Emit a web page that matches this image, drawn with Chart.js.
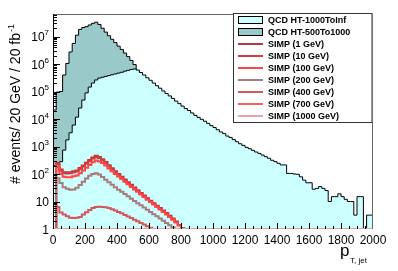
<!DOCTYPE html>
<html><head><meta charset="utf-8">
<script src="https://cdn.jsdelivr.net/npm/chart.js@4.4.0/dist/chart.umd.min.js"></script>
<style>html,body{margin:0;padding:0;background:#fff;}#wrap{width:398px;height:271px;position:relative;}</style>
</head><body><div id="wrap"><canvas id="c"></canvas></div>
<script>
const X_MIN = 0, X_MAX = 2000, Y_MIN = 1, Y_MAX = 6.6e7;
const BIN_WIDTH = 20;
const binLowEdges = Array.from({length: 100}, (_, i) => i * BIN_WIDTH);

const xTickValues = [0, 200, 400, 600, 800, 1000, 1200, 1400, 1600, 1800, 2000];
const xTickLabels = ['0', '200', '400', '600', '800', '1000', '1200', '1400', '1600', '1800', '2000'];
const yTickValues = [1, 10, 1e2, 1e3, 1e4, 1e5, 1e6, 1e7];
const yTickBases = ['1', '10', '10', '10', '10', '10', '10', '10'];
const yTickExps = ['', '', '2', '3', '4', '5', '6', '7'];

const qcdHT1000ToInf = [
 200, 250, 280, 740, 1740, 3160, 6030, 11700, 25100, 49000,
 89100, 145000, 204000, 263000, 309000, 331000, 355000, 380000, 407000, 437000,
 468000, 501000, 550000, 589000, 631000, 661000, 603000, 490000, 398000, 316000,
 257000, 204000, 162000, 132000, 105000, 85100, 69200, 56200, 44700, 36300,
 29500, 24000, 20400, 16600, 13600, 11500, 9770, 8300, 6920, 5750,
 4900, 4070, 3390, 2950, 2400, 2140, 1780, 1500, 1260, 1100,
 933, 832, 724, 631, 562, 490, 427, 372, 316, 282,
 245, 214, 214, 105, 105, 100, 98, 79, 60, 48,
 48, 28, 30, 35, 30, 25, 10, 15, 15, 19,
 15, 12, 10, 10, 3.2, 15, 15, 0, 3.2, 3.2];

const qcdHT500To1000 = [
 21400, 95500, 100000, 398000, 1050000, 2750000, 5620000, 11200000, 18200000, 21400000,
 22900000, 26300000, 30200000, 33100000, 27500000, 20000000, 14500000, 10700000, 7940000, 6030000,
 4470000, 3390000, 2510000, 1860000, 1350000, 955000, 550000, 398000, 282000, 200000,
 141000, 100000, 70800, 50100, 35500, 25100, 17800, 12600, 8910, 6310,
 4470, 3160, 2240, 1580, 1120, 794, 562, 398, 282, 200,
 141, 100, 71, 50, 35, 25, 18, 13, 9, 6,
 4, 3, 2];

const simp1GeV = [0, 251, 145, 117, 115, 117, 126, 135, 166, 204, 257, 324, 398, 457, 417, 347, 275, 209, 162, 126,
 100, 79.4, 63.1, 50.1, 40.7, 32.4, 25.7, 20.4, 16.6, 13.2, 10.7, 8.71, 7.08, 5.75, 4.68, 3.80, 3.02, 2.40, 1.86, 1.41,
 1.07, 0.8, 0.6, 0.45, 0.3];
const simp10GeV = [0, 229, 132, 107, 105, 107, 115, 126, 151, 186, 234, 295, 363, 417, 380, 316, 251, 191, 148, 117,
 93.3, 74.1, 58.9, 46.8, 38.0, 30.2, 24.0, 19.5, 15.8, 12.6, 10.2, 8.32, 6.76, 5.50, 4.47, 3.63, 2.88, 2.29, 1.78, 1.38,
 1.05, 0.8, 0.6, 0.4];
const simp100GeV = [0, 178, 100, 79.4, 75.9, 75.9, 83.2, 89.1, 107, 135, 170, 214, 269, 309, 288, 251, 204, 158, 126, 100,
 81.3, 66.1, 52.5, 42.7, 33.9, 27.5, 22.4, 17.8, 14.5, 11.7, 9.55, 7.76, 6.31, 5.13, 4.17, 3.39, 2.75, 2.19, 1.74, 1.35,
 1.05, 0.8, 0.6];
const simp200GeV = [0, 70.8, 46.8, 33.1, 28.8, 26.9, 27.5, 31.6, 39.8, 52.5, 69.2, 87.1, 100, 107, 95.5, 77.6, 61.7, 50.1, 40.7, 33.1,
 26.9, 22.4, 18.6, 15.5, 12.6, 10.5, 8.71, 7.24, 6.03, 5.01, 4.17, 3.47, 2.88, 2.40, 2.0, 1.66, 1.38, 1.15, 0.9, 0.7];
const simp400GeV = [0, 6.31, 3.98, 3.39, 2.88, 2.57, 2.51, 2.57, 2.75, 3.39, 4.07, 4.90, 5.75, 6.31, 6.46, 6.31, 6.17, 5.75, 5.25, 4.68,
 4.17, 3.72, 3.24, 2.82, 2.51, 2.19, 1.91, 1.66, 1.45, 1.26, 1.10, 0.9, 0.7];
const simp700GeV = [0, 0.52, 0.33, 0.28, 0.24, 0.22, 0.21, 0.22, 0.25, 0.3, 0.36, 0.42, 0.48, 0.52, 0.53, 0.5, 0.47, 0.43, 0.39, 0.34,
 0.3, 0.26, 0.23, 0.2, 0.17, 0.15, 0.13, 0.11];
const simp1000GeV = [0, 0.11, 0.07, 0.06, 0.05, 0.05, 0.05, 0.05, 0.06, 0.07, 0.08, 0.09, 0.1, 0.11, 0.11, 0.1, 0.1, 0.09, 0.08, 0.07,
 0.06, 0.05, 0.05, 0.04];

const seriesLabels = ['QCD HT-1000ToInf', 'QCD HT-500To1000', 'SIMP (1 GeV)', 'SIMP (10 GeV)', 'SIMP (100 GeV)',
  'SIMP (200 GeV)', 'SIMP (400 GeV)', 'SIMP (700 GeV)', 'SIMP (1000 GeV)'];

// ROOT-like: bins below the axis minimum are drawn on the bottom of the frame
function histPoints(vals) {
  const pts = [];
  for (let i = 0; i < binLowEdges.length; i++) {
    const v = vals[i] ?? 0;
    pts.push({x: binLowEdges[i], y: Math.max(v, Y_MIN)});
  }
  const last = vals[binLowEdges.length - 1] ?? 0;
  pts.push({x: X_MAX, y: Math.max(last, Y_MIN)});
  return pts;
}

const FONT = '"Liberation Sans", Arial, Helvetica, sans-serif';

function qcd(label, vals, fillColor, order) {
  return {label, data: histPoints(vals), stepped: true, borderColor: '#000', borderWidth: 1,
    backgroundColor: fillColor, fill: 'start', pointRadius: 0, order, legendKind: 'box'};
}
function simp(label, vals, color, order) {
  return {label, data: histPoints(vals), stepped: true, borderColor: color, borderWidth: 2,
    backgroundColor: color, fill: false, pointRadius: 0, order, legendKind: 'line'};
}

const datasets = [
  qcd(seriesLabels[0], qcdHT1000ToInf, '#ccffff', 9),
  qcd(seriesLabels[1], qcdHT500To1000, '#99c9c9', 10),
  simp(seriesLabels[2], simp1GeV, '#b33a3a', 8),
  simp(seriesLabels[3], simp10GeV, '#d63a3a', 7),
  simp(seriesLabels[4], simp100GeV, '#ff4444', 6),
  simp(seriesLabels[5], simp200GeV, '#a87a7a', 5),
  simp(seriesLabels[6], simp400GeV, '#d85656', 4),
  simp(seriesLabels[7], simp700GeV, '#ff5e5e', 3),
  simp(seriesLabels[8], simp1000GeV, '#e2a6a6', 2)
];

const rootStyle = {
  id: 'rootStyle',
  beforeDatasetsDraw(chart) {
    const {ctx, chartArea: a} = chart;
    ctx.save();
    ctx.strokeStyle = '#000'; ctx.lineWidth = 1;
    ctx.beginPath();
    ctx.moveTo(a.left, a.bottom - 0.5); ctx.lineTo(a.right, a.bottom - 0.5);
    ctx.stroke();
    ctx.restore();
  },
  afterDraw(chart) {
    const {ctx, chartArea: a, scales} = chart;
    const xs = scales.x, ys = scales.y;
    ctx.save();
    // frame
    ctx.lineWidth = 1;
    ctx.strokeStyle = '#666';
    ctx.beginPath();
    ctx.moveTo(a.left, a.top + 0.5); ctx.lineTo(a.right, a.top + 0.5);
    ctx.moveTo(a.right - 0.5, a.top); ctx.lineTo(a.right - 0.5, a.bottom);
    ctx.stroke();
    ctx.strokeStyle = '#000';
    ctx.beginPath();
    ctx.moveTo(a.left + 0.5, a.top); ctx.lineTo(a.left + 0.5, a.bottom);
    ctx.stroke();
    // x ticks
    ctx.beginPath();
    for (let v = X_MIN + 50; v < X_MAX; v += 50) {
      const px = Math.round(xs.getPixelForValue(v)) + 0.5;
      const len = (v % 200 === 0) ? 6 : 3;
      ctx.moveTo(px, a.bottom); ctx.lineTo(px, a.bottom - len);
    }
    // y ticks
    for (let d = 0; d <= 7; d++) {
      for (let k = 1; k <= 9; k++) {
        const v = k * Math.pow(10, d);
        if (v > Y_MAX) break;
        const py = Math.round(ys.getPixelForValue(v)) + 0.5;
        const len = k === 1 ? 7 : 4;
        if (v > Y_MIN) { ctx.moveTo(a.left, py); ctx.lineTo(a.left + len, py); }
      }
    }
    ctx.stroke();
    // x tick labels
    ctx.fillStyle = '#000';
    ctx.font = '12px ' + FONT;
    ctx.textAlign = 'center';
    ctx.textBaseline = 'alphabetic';
    xTickValues.forEach((v, i) => {
      ctx.fillText(xTickLabels[i], xs.getPixelForValue(v), a.bottom + 15);
    });
    // y tick labels
    yTickValues.forEach((v, i) => {
      const py = ys.getPixelForValue(v);
      const right = a.left - 4;
      ctx.font = '8px ' + FONT;
      const ew = yTickExps[i] ? ctx.measureText(yTickExps[i]).width : 0;
      ctx.font = '12px ' + FONT;
      ctx.textAlign = 'right';
      ctx.fillText(yTickBases[i], right - ew, py + 4.5);
      if (yTickExps[i]) {
        ctx.font = '8px ' + FONT;
        ctx.textAlign = 'left';
        ctx.fillText(yTickExps[i], right - ew, py - 1.5);
      }
    });
    // y title
    ctx.save();
    ctx.translate(20, 184);
    ctx.rotate(-Math.PI / 2);
    ctx.textAlign = 'left';
    ctx.font = '14px ' + FONT;
    const yt = '# events/ 20 GeV / 20 fb';
    ctx.fillText(yt, 0, 0);
    const ytw = ctx.measureText(yt).width;
    ctx.font = '9px ' + FONT;
    ctx.fillText('-1', ytw + 1, -6);
    ctx.restore();
    // x title
    ctx.textAlign = 'left';
    ctx.font = '17px ' + FONT;
    ctx.fillText('p', 340, 256);
    ctx.font = '8px ' + FONT;
    ctx.fillText('T, jet', 350, 263);
    // legend
    const lx0 = 233, ly0 = 13.5, lx1 = 372.5, ly1 = 122.5;
    ctx.fillStyle = '#fff';
    ctx.fillRect(lx0, ly0, lx1 - lx0, ly1 - ly0);
    ctx.strokeStyle = '#333';
    ctx.strokeRect(lx0 + 0.5, ly0, lx1 - lx0 - 1, ly1 - ly0);
    const rowH = (ly1 - ly0) / chart.data.datasets.length;
    chart.data.datasets.forEach((ds, i) => {
      const cy = ly0 + rowH * (i + 0.5);
      if (ds.legendKind === 'box') {
        ctx.fillStyle = ds.backgroundColor;
        ctx.fillRect(238.5, Math.round(cy - 3.5) + 0.5, 24, 7);
        ctx.strokeStyle = '#000';
        ctx.strokeRect(238.5, Math.round(cy - 3.5) + 0.5, 24, 7);
      } else {
        ctx.strokeStyle = ds.borderColor;
        ctx.lineWidth = 2;
        ctx.beginPath();
        ctx.moveTo(238, Math.round(cy)); ctx.lineTo(263, Math.round(cy));
        ctx.stroke();
        ctx.lineWidth = 1;
      }
      ctx.fillStyle = '#000';
      ctx.font = 'bold 9px ' + FONT;
      ctx.textAlign = 'left';
      ctx.textBaseline = 'middle';
      ctx.fillText(ds.label, 268, cy + 0.5);
      ctx.textBaseline = 'alphabetic';
    });
    ctx.restore();
  }
};

new Chart(document.getElementById('c'), {
  type: 'line',
  data: {datasets},
  options: {
    responsive: true,
    maintainAspectRatio: false,
    devicePixelRatio: 1,
    animation: false,
    events: [],
    layout: {padding: {left: 53, right: 25, top: 14, bottom: 42}},
    plugins: {legend: {display: false}, tooltip: {enabled: false}},
    scales: {
      x: {type: 'linear', min: X_MIN, max: X_MAX, display: false},
      y: {type: 'logarithmic', min: Y_MIN, max: Y_MAX, display: false}
    }
  },
  plugins: [rootStyle]
});
</script>
</body></html>
